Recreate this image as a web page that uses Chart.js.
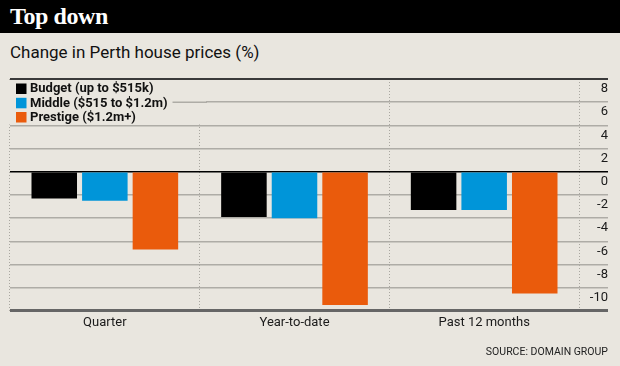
<!DOCTYPE html>
<html>
<head>
<meta charset="utf-8">
<script src="https://cdn.jsdelivr.net/npm/chart.js@4/dist/chart.umd.min.js"></script>
<style>
  html, body { margin: 0; padding: 0; background: #e9e6df; }
  #wrap { position: relative; width: 620px; height: 366px; overflow: hidden; background: #e9e6df; }
  #header { position: absolute; left: 0; top: 0; width: 620px; height: 33px; background: #000; }
  #title { position: absolute; left: 10px; top: 3px; font: bold 24px "Liberation Serif", "DejaVu Serif", serif; color: #fff; line-height: 26px; letter-spacing: -0.4px; }
  #subtitle { position: absolute; left: 10px; top: 42px; font: 17px Roboto, "Liberation Sans", sans-serif; color: #111; line-height: 20px; }
  #source { position: absolute; right: 12px; top: 345px; font: 10.5px Roboto, "Liberation Sans", sans-serif; color: #222; line-height: 14px; }
  canvas { position: absolute; left: 0; top: 0; }
</style>
</head>
<body>
<div id="wrap">
  <div id="header"><div id="title">Top down</div></div>
  <div id="subtitle">Change in Perth house prices (%)</div>
  <canvas id="c" width="620" height="366"></canvas>
  <div id="source">SOURCE: DOMAIN GROUP</div>
</div>
<script>
// ---- data ----
const categories = ['Quarter', 'Year-to-date', 'Past 12 months'];
const seriesNames = ['Budget (up to $515k)', 'Middle ($515 to $1.2m)', 'Prestige ($1.2m+)'];
const budget = [-2.3, -3.9, -3.3];
const middle = [-2.5, -4.0, -3.3];
const prestige = [-6.7, -11.5, -10.5];
const yMin = -12;
const yMax = 8;
const yStep = 2;

const FONT = 'Roboto, "Liberation Sans", sans-serif';
const colors = ['#000000', '#0095d9', '#ea5b0c'];
const bg = '#e9e6df';

// measure widest y label so labels can be right-aligned at the far edge
const mctx = document.createElement('canvas').getContext('2d');
mctx.font = '13px ' + FONT;
const widest = mctx.measureText('-10').width;

function gridColor(v) {
  if (v === 0) return '#000000';
  if (v === yMax) return '#3a3a3a';
  if (v === yMin) return '#666666';
  return '#aeaca6';
}
function gridWidth(v) {
  if (v === 0) return 1.5;
  if (v === yMax) return 2;
  if (v === yMin) return 3;
  return 1.5;
}

const legendPlugin = {
  id: 'customLegend',
  afterDatasetsDraw(chart) {
    const ctx = chart.ctx;
    const ys = chart.scales.y;
    ctx.save();
    ctx.fillStyle = bg;
    ctx.fillRect(9, 80.5, 197, 44);
    ctx.font = 'bold 13px ' + FONT;
    ctx.textBaseline = 'middle';
    const rowY = [88.5, 102.8, 117];
    let midEnd = 0;
    chart.data.datasets.forEach((ds, i) => {
      ctx.fillStyle = ds.backgroundColor;
      ctx.fillRect(16, rowY[i] - 5, 10.5, 10.5);
      ctx.fillStyle = '#111';
      ctx.textAlign = 'left';
      ctx.fillText(ds.label, 30, rowY[i] + 0.5);
      if (i === 1) midEnd = 30 + ctx.measureText(ds.label).width;
    });
    // gridline at 6 continues after the middle label
    const y6 = ys.getPixelForValue(6);
    ctx.strokeStyle = gridColor(6);
    ctx.lineWidth = gridWidth(6);
    ctx.beginPath();
    ctx.moveTo(midEnd + 5, y6);
    ctx.lineTo(207, y6);
    ctx.stroke();
    ctx.restore();
  }
};

new Chart(document.getElementById('c'), {
  type: 'bar',
  data: {
    labels: categories,
    datasets: [
      { label: seriesNames[0], data: budget, backgroundColor: colors[0] },
      { label: seriesNames[1], data: middle, backgroundColor: colors[1] },
      { label: seriesNames[2], data: prestige, backgroundColor: colors[2] }
    ]
  },
  options: {
    responsive: false,
    animation: false,
    devicePixelRatio: 1,
    layout: { padding: { left: 10, right: 12, top: 79, bottom: 30.5 } },
    datasets: { bar: { categoryPercentage: 0.8, barPercentage: 0.9 } },
    plugins: { legend: { display: false }, tooltip: { enabled: false }, title: { display: false } },
    scales: {
      x: {
        type: 'category',
        grid: { display: true, offset: true, drawTicks: false, color: '#a9a7a0', lineWidth: 1 },
        border: { display: false, dash: [1, 2] },
        ticks: { color: '#1a1a1a', font: { family: FONT, size: 13 }, padding: 4.5 }
      },
      y: {
        position: 'right',
        min: yMin,
        max: yMax,
        afterFit: s => { s.width = 29; },
        grid: {
          drawTicks: true,
          tickLength: 29,
          color: c => gridColor(c.tick ? c.tick.value : 0),
          lineWidth: c => gridWidth(c.tick ? c.tick.value : 0),
          tickColor: c => gridColor(c.tick ? c.tick.value : 0),
          tickWidth: c => gridWidth(c.tick ? c.tick.value : 0)
        },
        border: { display: false },
        ticks: {
          stepSize: yStep,
          crossAlign: 'far',
          padding: -widest,
          labelOffset: 10,
          color: '#1a1a1a',
          font: { family: FONT, size: 13 },
          callback: v => (v === yMin ? '' : String(v))
        }
      }
    }
  },
  plugins: [legendPlugin]
});
</script>
</body>
</html>
